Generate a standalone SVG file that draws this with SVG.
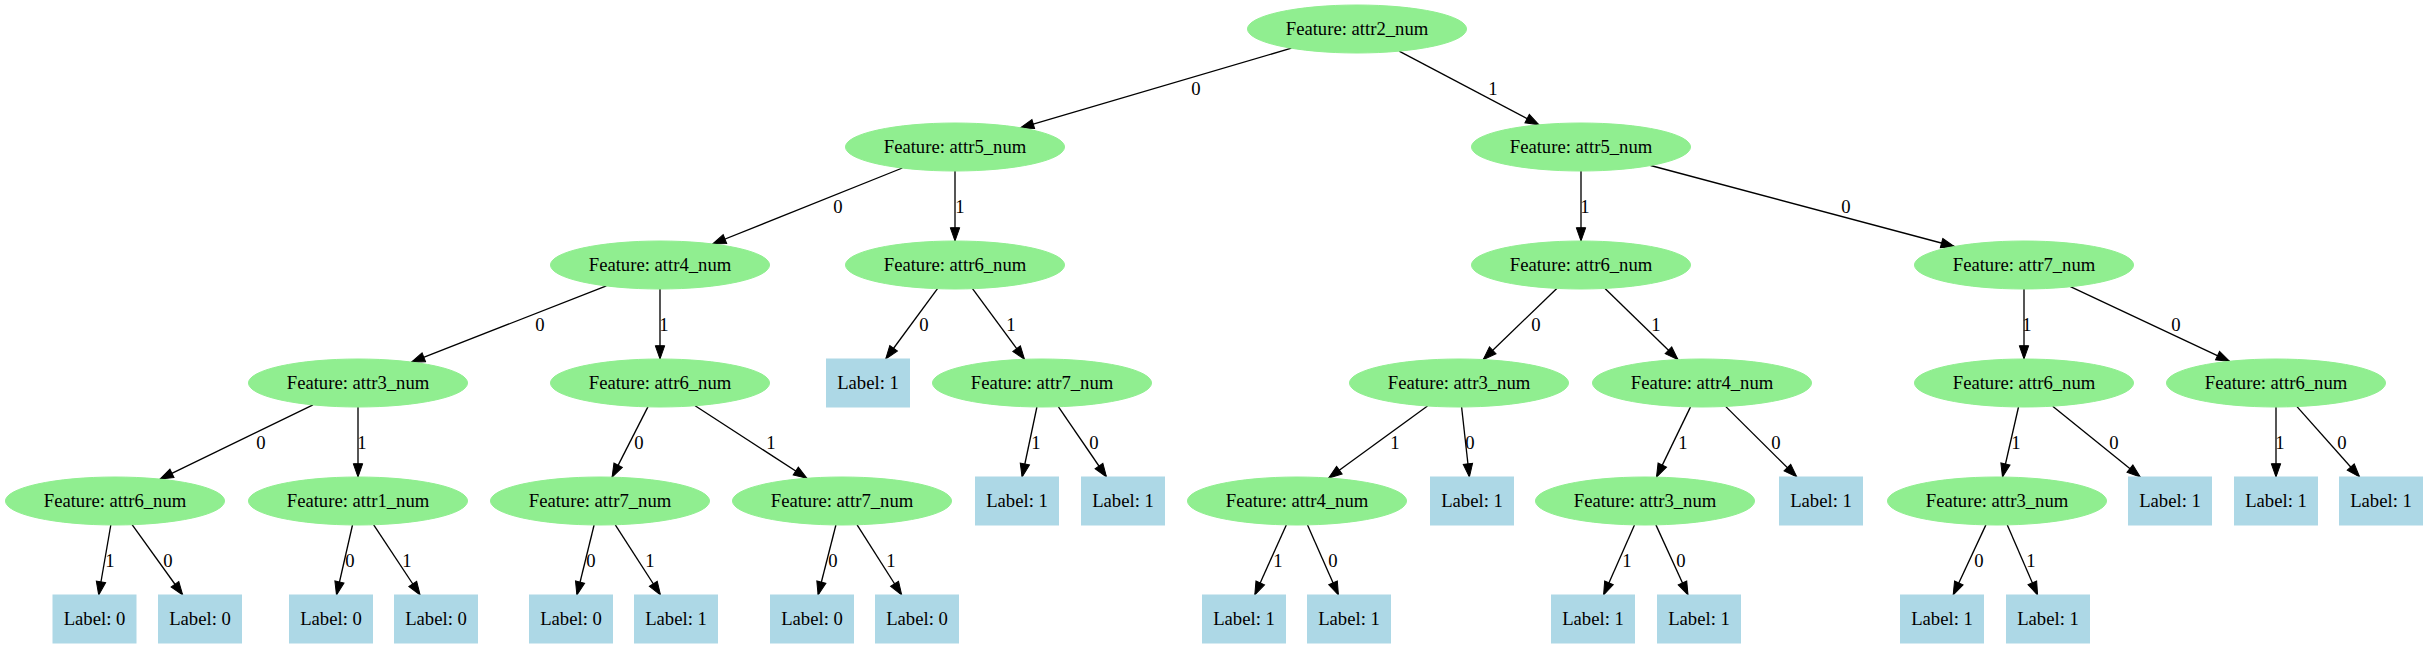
<svg xmlns="http://www.w3.org/2000/svg" width="2427" height="649" viewBox="0 0 2427 649">
<style>
.f ellipse{fill:#90ee90;stroke:#90ee90;}
.l rect{fill:#add8e6;stroke:#add8e6;}
text{font-family:"Liberation Serif","Times New Roman",serif;font-size:18.67px;fill:#000;text-anchor:middle;}
#edges line{stroke:#000;stroke-width:1.33;marker-end:url(#arr);}
</style>
<defs>
<marker id="arr" markerUnits="userSpaceOnUse" markerWidth="16" markerHeight="12" refX="13.3" refY="4.7" orient="auto" overflow="visible">
<path d="M0,0 L13.3,4.7 L0,9.4 Z" fill="#000" stroke="#000" stroke-width="1"/>
</marker>
</defs>
<rect width="2427" height="649" fill="#fff"/>
<g id="edges">
<line x1="1291.5" y1="48.2" x2="1020.5" y2="127.8"/><text x="1196" y="95">0</text>
<line x1="1399.1" y1="51.2" x2="1538.9" y2="124.8"/><text x="1493" y="95">1</text>
<line x1="902.4" y1="168" x2="712.6" y2="244"/><text x="838" y="213">0</text>
<line x1="955" y1="171" x2="955" y2="241"/><text x="960" y="213">1</text>
<line x1="1581" y1="171" x2="1581" y2="241"/><text x="1585" y="213">1</text>
<line x1="1650.6" y1="165.5" x2="1954.4" y2="246.5"/><text x="1846" y="213">0</text>
<line x1="606.4" y1="285.9" x2="411.4" y2="362.1"/><text x="540" y="331">0</text>
<line x1="660" y1="289" x2="660" y2="359"/><text x="664" y="331">1</text>
<line x1="937.5" y1="288.7" x2="885.7" y2="359"/><text x="924" y="331">0</text>
<line x1="972.5" y1="288.7" x2="1024.5" y2="359.3"/><text x="1011" y="331">1</text>
<line x1="1556.8" y1="288.4" x2="1483.2" y2="359.6"/><text x="1536" y="331">0</text>
<line x1="1605" y1="288.4" x2="1678" y2="359.6"/><text x="1656" y="331">1</text>
<line x1="2024" y1="289" x2="2024" y2="359"/><text x="2027" y="331">1</text>
<line x1="2070.4" y1="286.7" x2="2229.6" y2="361.3"/><text x="2176" y="331">0</text>
<line x1="313" y1="404.9" x2="160" y2="479.1"/><text x="261" y="449">0</text>
<line x1="358" y1="407" x2="358" y2="477"/><text x="362" y="449">1</text>
<line x1="647.9" y1="406.9" x2="612.1" y2="477.1"/><text x="639" y="449">0</text>
<line x1="695.1" y1="405.7" x2="806.9" y2="478.3"/><text x="771" y="449">1</text>
<line x1="1036.9" y1="407" x2="1022.1" y2="477"/><text x="1036" y="449">1</text>
<line x1="1058.3" y1="406.7" x2="1106.5" y2="477"/><text x="1094" y="449">0</text>
<line x1="1427.5" y1="406" x2="1328.6" y2="478"/><text x="1395" y="449">1</text>
<line x1="1461.6" y1="407" x2="1469.4" y2="477"/><text x="1470" y="449">0</text>
<line x1="1690.5" y1="406.9" x2="1656.5" y2="477.1"/><text x="1683" y="449">1</text>
<line x1="1725.6" y1="406.4" x2="1796.8" y2="477"/><text x="1776" y="449">0</text>
<line x1="2018.5" y1="407" x2="2002.5" y2="477"/><text x="2016" y="449">1</text>
<line x1="2052.7" y1="406.2" x2="2140.3" y2="477"/><text x="2114" y="449">0</text>
<line x1="2276" y1="407" x2="2276" y2="477"/><text x="2280" y="449">1</text>
<line x1="2297" y1="406.6" x2="2359.6" y2="477"/><text x="2342" y="449">0</text>
<line x1="110.8" y1="525" x2="98.7" y2="595"/><text x="110" y="567">1</text>
<line x1="132.1" y1="524.7" x2="182.7" y2="595"/><text x="168" y="567">0</text>
<line x1="352.5" y1="525" x2="336.5" y2="595"/><text x="350" y="567">0</text>
<line x1="373.7" y1="524.8" x2="420.1" y2="595"/><text x="407" y="567">1</text>
<line x1="594.1" y1="525" x2="576.9" y2="595"/><text x="591" y="567">0</text>
<line x1="615.3" y1="524.8" x2="660.5" y2="595"/><text x="650" y="567">1</text>
<line x1="835.9" y1="525" x2="818.1" y2="595"/><text x="833" y="567">0</text>
<line x1="857.1" y1="524.8" x2="901.7" y2="595"/><text x="891" y="567">1</text>
<line x1="1286.3" y1="524.9" x2="1254.8" y2="595"/><text x="1278" y="567">1</text>
<line x1="1307.5" y1="524.9" x2="1338.4" y2="595"/><text x="1333" y="567">0</text>
<line x1="1634.5" y1="524.9" x2="1603.6" y2="595"/><text x="1627" y="567">1</text>
<line x1="1655.9" y1="524.9" x2="1688" y2="595"/><text x="1681" y="567">0</text>
<line x1="1985.9" y1="524.9" x2="1953.2" y2="595"/><text x="1979" y="567">0</text>
<line x1="2007.3" y1="524.9" x2="2037.6" y2="595"/><text x="2031" y="567">1</text>
</g>
<g id="n0" class="f"><ellipse cx="1357" cy="29" rx="109.5" ry="24"/><text x="1357" y="35">Feature: attr2_num</text></g>
<g id="n1" class="f"><ellipse cx="955" cy="147" rx="109.5" ry="24"/><text x="955" y="153">Feature: attr5_num</text></g>
<g id="n2" class="f"><ellipse cx="1581" cy="147" rx="109.5" ry="24"/><text x="1581" y="153">Feature: attr5_num</text></g>
<g id="n3" class="f"><ellipse cx="660" cy="265" rx="109.5" ry="24"/><text x="660" y="271">Feature: attr4_num</text></g>
<g id="n4" class="f"><ellipse cx="955" cy="265" rx="109.5" ry="24"/><text x="955" y="271">Feature: attr6_num</text></g>
<g id="n5" class="f"><ellipse cx="1581" cy="265" rx="109.5" ry="24"/><text x="1581" y="271">Feature: attr6_num</text></g>
<g id="n6" class="f"><ellipse cx="2024" cy="265" rx="109.5" ry="24"/><text x="2024" y="271">Feature: attr7_num</text></g>
<g id="n7" class="f"><ellipse cx="358" cy="383" rx="109.5" ry="24"/><text x="358" y="389">Feature: attr3_num</text></g>
<g id="n8" class="f"><ellipse cx="660" cy="383" rx="109.5" ry="24"/><text x="660" y="389">Feature: attr6_num</text></g>
<g id="n9" class="l"><rect x="826.5" y="359" width="83" height="48"/><text x="868" y="389">Label: 1</text></g>
<g id="n10" class="f"><ellipse cx="1042" cy="383" rx="109.5" ry="24"/><text x="1042" y="389">Feature: attr7_num</text></g>
<g id="n11" class="f"><ellipse cx="1459" cy="383" rx="109.5" ry="24"/><text x="1459" y="389">Feature: attr3_num</text></g>
<g id="n12" class="f"><ellipse cx="1702" cy="383" rx="109.5" ry="24"/><text x="1702" y="389">Feature: attr4_num</text></g>
<g id="n13" class="f"><ellipse cx="2024" cy="383" rx="109.5" ry="24"/><text x="2024" y="389">Feature: attr6_num</text></g>
<g id="n14" class="f"><ellipse cx="2276" cy="383" rx="109.5" ry="24"/><text x="2276" y="389">Feature: attr6_num</text></g>
<g id="n15" class="f"><ellipse cx="115" cy="501" rx="109.5" ry="24"/><text x="115" y="507">Feature: attr6_num</text></g>
<g id="n16" class="f"><ellipse cx="358" cy="501" rx="109.5" ry="24"/><text x="358" y="507">Feature: attr1_num</text></g>
<g id="n17" class="f"><ellipse cx="600" cy="501" rx="109.5" ry="24"/><text x="600" y="507">Feature: attr7_num</text></g>
<g id="n18" class="f"><ellipse cx="842" cy="501" rx="109.5" ry="24"/><text x="842" y="507">Feature: attr7_num</text></g>
<g id="n19" class="l"><rect x="975.5" y="477" width="83" height="48"/><text x="1017" y="507">Label: 1</text></g>
<g id="n20" class="l"><rect x="1081.5" y="477" width="83" height="48"/><text x="1123" y="507">Label: 1</text></g>
<g id="n21" class="f"><ellipse cx="1297" cy="501" rx="109.5" ry="24"/><text x="1297" y="507">Feature: attr4_num</text></g>
<g id="n22" class="l"><rect x="1430.5" y="477" width="83" height="48"/><text x="1472" y="507">Label: 1</text></g>
<g id="n23" class="f"><ellipse cx="1645" cy="501" rx="109.5" ry="24"/><text x="1645" y="507">Feature: attr3_num</text></g>
<g id="n24" class="l"><rect x="1779.5" y="477" width="83" height="48"/><text x="1821" y="507">Label: 1</text></g>
<g id="n25" class="f"><ellipse cx="1997" cy="501" rx="109.5" ry="24"/><text x="1997" y="507">Feature: attr3_num</text></g>
<g id="n26" class="l"><rect x="2128.5" y="477" width="83" height="48"/><text x="2170" y="507">Label: 1</text></g>
<g id="n27" class="l"><rect x="2234.5" y="477" width="83" height="48"/><text x="2276" y="507">Label: 1</text></g>
<g id="n28" class="l"><rect x="2339.5" y="477" width="83" height="48"/><text x="2381" y="507">Label: 1</text></g>
<g id="n29" class="l"><rect x="53" y="595" width="83" height="48"/><text x="94.5" y="625">Label: 0</text></g>
<g id="n30" class="l"><rect x="158.5" y="595" width="83" height="48"/><text x="200" y="625">Label: 0</text></g>
<g id="n31" class="l"><rect x="289.5" y="595" width="83" height="48"/><text x="331" y="625">Label: 0</text></g>
<g id="n32" class="l"><rect x="394.5" y="595" width="83" height="48"/><text x="436" y="625">Label: 0</text></g>
<g id="n33" class="l"><rect x="529.5" y="595" width="83" height="48"/><text x="571" y="625">Label: 0</text></g>
<g id="n34" class="l"><rect x="634.5" y="595" width="83" height="48"/><text x="676" y="625">Label: 1</text></g>
<g id="n35" class="l"><rect x="770.5" y="595" width="83" height="48"/><text x="812" y="625">Label: 0</text></g>
<g id="n36" class="l"><rect x="875.5" y="595" width="83" height="48"/><text x="917" y="625">Label: 0</text></g>
<g id="n37" class="l"><rect x="1202.5" y="595" width="83" height="48"/><text x="1244" y="625">Label: 1</text></g>
<g id="n38" class="l"><rect x="1307.5" y="595" width="83" height="48"/><text x="1349" y="625">Label: 1</text></g>
<g id="n39" class="l"><rect x="1551.5" y="595" width="83" height="48"/><text x="1593" y="625">Label: 1</text></g>
<g id="n40" class="l"><rect x="1657.5" y="595" width="83" height="48"/><text x="1699" y="625">Label: 1</text></g>
<g id="n41" class="l"><rect x="1900.5" y="595" width="83" height="48"/><text x="1942" y="625">Label: 1</text></g>
<g id="n42" class="l"><rect x="2006.5" y="595" width="83" height="48"/><text x="2048" y="625">Label: 1</text></g>
</svg>
